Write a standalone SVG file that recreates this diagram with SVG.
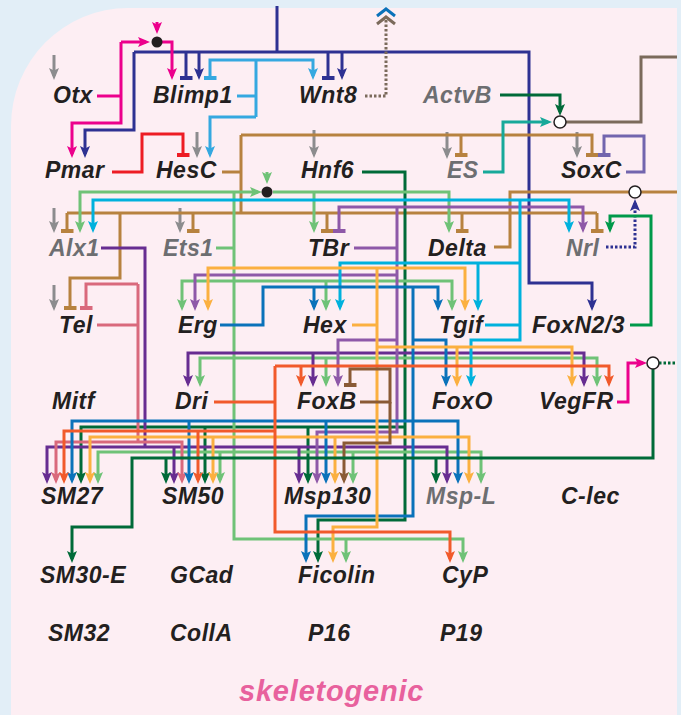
<svg xmlns="http://www.w3.org/2000/svg" width="681" height="715" viewBox="0 0 681 715">
<defs>
<style>
.n{font-family:"Liberation Sans",Arial,sans-serif;font-weight:bold;font-style:italic;font-size:23px;letter-spacing:0.5px;fill:#231f20}
.g{fill:#6d6e71}
.t{font-family:"Liberation Sans",Arial,sans-serif;font-weight:bold;font-style:italic;font-size:29px;letter-spacing:0.8px;fill:#e8619d}
.l{fill:none;stroke-width:3}
.navy{stroke:#2e3192}.mag{stroke:#ec008c}.lblue{stroke:#35a8e0}.cyan{stroke:#00b1dd}.blue{stroke:#0a72ba}
.gray{stroke:#8c8c8e}.lgreen{stroke:#6fc277}.dgreen{stroke:#006a38}.green{stroke:#00994a}.purple{stroke:#672d91}
.lpurple{stroke:#8e58a8}.orange{stroke:#fbb040}.rorange{stroke:#f15a2b}.red{stroke:#ed1c24}.pink{stroke:#d9697c}
.teal{stroke:#17a99a}.brown{stroke:#b7823f}.dbrown{stroke:#8a5a35}.slate{stroke:#7265ae}.gbrown{stroke:#7b6a5b}
.dot{stroke-dasharray:2.5 2}
.oc{fill:#fff;stroke:#231f20;stroke-width:1.5}
</style>
<marker id="a-navy" viewBox="0 0 12 10" refX="8" refY="5" markerWidth="12" markerHeight="10" markerUnits="userSpaceOnUse" orient="auto"><path d="M0,0L12,5L0,10L2.5,5z" fill="#2e3192"/></marker>
<marker id="a-mag" viewBox="0 0 12 10" refX="8" refY="5" markerWidth="12" markerHeight="10" markerUnits="userSpaceOnUse" orient="auto"><path d="M0,0L12,5L0,10L2.5,5z" fill="#ec008c"/></marker>
<marker id="a-lblue" viewBox="0 0 12 10" refX="8" refY="5" markerWidth="12" markerHeight="10" markerUnits="userSpaceOnUse" orient="auto"><path d="M0,0L12,5L0,10L2.5,5z" fill="#35a8e0"/></marker>
<marker id="a-cyan" viewBox="0 0 12 10" refX="8" refY="5" markerWidth="12" markerHeight="10" markerUnits="userSpaceOnUse" orient="auto"><path d="M0,0L12,5L0,10L2.5,5z" fill="#00b1dd"/></marker>
<marker id="a-blue" viewBox="0 0 12 10" refX="8" refY="5" markerWidth="12" markerHeight="10" markerUnits="userSpaceOnUse" orient="auto"><path d="M0,0L12,5L0,10L2.5,5z" fill="#0a72ba"/></marker>
<marker id="a-gray" viewBox="0 0 12 10" refX="8" refY="5" markerWidth="12" markerHeight="10" markerUnits="userSpaceOnUse" orient="auto"><path d="M0,0L12,5L0,10L2.5,5z" fill="#8c8c8e"/></marker>
<marker id="a-lgreen" viewBox="0 0 12 10" refX="8" refY="5" markerWidth="12" markerHeight="10" markerUnits="userSpaceOnUse" orient="auto"><path d="M0,0L12,5L0,10L2.5,5z" fill="#6fc277"/></marker>
<marker id="a-dgreen" viewBox="0 0 12 10" refX="8" refY="5" markerWidth="12" markerHeight="10" markerUnits="userSpaceOnUse" orient="auto"><path d="M0,0L12,5L0,10L2.5,5z" fill="#006a38"/></marker>
<marker id="a-green" viewBox="0 0 12 10" refX="8" refY="5" markerWidth="12" markerHeight="10" markerUnits="userSpaceOnUse" orient="auto"><path d="M0,0L12,5L0,10L2.5,5z" fill="#00994a"/></marker>
<marker id="a-purple" viewBox="0 0 12 10" refX="8" refY="5" markerWidth="12" markerHeight="10" markerUnits="userSpaceOnUse" orient="auto"><path d="M0,0L12,5L0,10L2.5,5z" fill="#672d91"/></marker>
<marker id="a-lpurple" viewBox="0 0 12 10" refX="8" refY="5" markerWidth="12" markerHeight="10" markerUnits="userSpaceOnUse" orient="auto"><path d="M0,0L12,5L0,10L2.5,5z" fill="#8e58a8"/></marker>
<marker id="a-orange" viewBox="0 0 12 10" refX="8" refY="5" markerWidth="12" markerHeight="10" markerUnits="userSpaceOnUse" orient="auto"><path d="M0,0L12,5L0,10L2.5,5z" fill="#fbb040"/></marker>
<marker id="a-rorange" viewBox="0 0 12 10" refX="8" refY="5" markerWidth="12" markerHeight="10" markerUnits="userSpaceOnUse" orient="auto"><path d="M0,0L12,5L0,10L2.5,5z" fill="#f15a2b"/></marker>
<marker id="a-pink" viewBox="0 0 12 10" refX="8" refY="5" markerWidth="12" markerHeight="10" markerUnits="userSpaceOnUse" orient="auto"><path d="M0,0L12,5L0,10L2.5,5z" fill="#d9697c"/></marker>
<marker id="a-teal" viewBox="0 0 12 10" refX="8" refY="5" markerWidth="12" markerHeight="10" markerUnits="userSpaceOnUse" orient="auto"><path d="M0,0L12,5L0,10L2.5,5z" fill="#17a99a"/></marker>
<marker id="a-dbrown" viewBox="0 0 12 10" refX="8" refY="5" markerWidth="12" markerHeight="10" markerUnits="userSpaceOnUse" orient="auto"><path d="M0,0L12,5L0,10L2.5,5z" fill="#8a5a35"/></marker>
<marker id="b-navy" viewBox="0 0 4.5 13" refX="2.25" refY="6.5" markerWidth="4.5" markerHeight="13" markerUnits="userSpaceOnUse" orient="auto"><rect width="4.5" height="13" fill="#2e3192"/></marker>
<marker id="b-lblue" viewBox="0 0 4.5 13" refX="2.25" refY="6.5" markerWidth="4.5" markerHeight="13" markerUnits="userSpaceOnUse" orient="auto"><rect width="4.5" height="13" fill="#35a8e0"/></marker>
<marker id="b-red" viewBox="0 0 4.5 13" refX="2.25" refY="6.5" markerWidth="4.5" markerHeight="13" markerUnits="userSpaceOnUse" orient="auto"><rect width="4.5" height="13" fill="#ed1c24"/></marker>
<marker id="b-brown" viewBox="0 0 4.5 13" refX="2.25" refY="6.5" markerWidth="4.5" markerHeight="13" markerUnits="userSpaceOnUse" orient="auto"><rect width="4.5" height="13" fill="#b7823f"/></marker>
<marker id="b-slate" viewBox="0 0 4.5 13" refX="2.25" refY="6.5" markerWidth="4.5" markerHeight="13" markerUnits="userSpaceOnUse" orient="auto"><rect width="4.5" height="13" fill="#7265ae"/></marker>
<marker id="b-lpurple" viewBox="0 0 4.5 13" refX="2.25" refY="6.5" markerWidth="4.5" markerHeight="13" markerUnits="userSpaceOnUse" orient="auto"><rect width="4.5" height="13" fill="#8e58a8"/></marker>
<marker id="b-pink" viewBox="0 0 4.5 13" refX="2.25" refY="6.5" markerWidth="4.5" markerHeight="13" markerUnits="userSpaceOnUse" orient="auto"><rect width="4.5" height="13" fill="#d9697c"/></marker>
<marker id="b-dbrown" viewBox="0 0 4.5 13" refX="2.25" refY="6.5" markerWidth="4.5" markerHeight="13" markerUnits="userSpaceOnUse" orient="auto"><rect width="4.5" height="13" fill="#8a5a35"/></marker>
</defs>

<rect width="681" height="715" fill="#e2eef7"/>
<path d="M11,715V126A117,118 0 0 1 128,8H677V715Z" fill="#fdeef3"/>

<g id="connectors">
<path class="l navy" d="M277,6V52"/>
<path class="l navy" d="M134,52V130H85V154" marker-end="url(#a-navy)"/>
<path class="l navy" d="M134,52H529V283H592V307" marker-end="url(#a-navy)"/>
<path class="l navy" d="M186,52V78" marker-end="url(#b-navy)"/>
<path class="l navy" d="M199,52V76" marker-end="url(#a-navy)"/>
<path class="l navy" d="M328,52V78" marker-end="url(#b-navy)"/>
<path class="l navy" d="M342,52V76" marker-end="url(#a-navy)"/>
<path class="l mag" d="M97,96H121"/>
<path class="l mag" d="M121,42V123H72V154" marker-end="url(#a-mag)"/>
<path class="l mag" d="M121,42H146" marker-end="url(#a-mag)"/>
<path class="l mag" d="M157,42H172V76" marker-end="url(#a-mag)"/>
<path class="l mag" d="M157,22V30" marker-end="url(#a-mag)"/>
<circle cx="157" cy="42" r="5.5" fill="#231f20"/>
<path class="l lblue" d="M237,96H256"/>
<path class="l lblue" d="M256,60V117"/>
<path class="l lblue" d="M256,60H210V78" marker-end="url(#b-lblue)"/>
<path class="l lblue" d="M256,60H313V76" marker-end="url(#a-lblue)"/>
<path class="l lblue" d="M256,117H210V154" marker-end="url(#a-lblue)"/>
<path class="l gbrown dot" d="M365,96H386V20"/>
<polyline points="377,16 386,9 395,16" fill="none" stroke="#0a72ba" stroke-width="3"/>
<polyline points="377,24 386,17 395,24" fill="none" stroke="#7b6a5b" stroke-width="3"/>
<path class="l red" d="M112,172H142V134H183V155" marker-end="url(#b-red)"/>
<path class="l gray" d="M54,55V76" marker-end="url(#a-gray)"/>
<path class="l gray" d="M197,132V154" marker-end="url(#a-gray)"/>
<path class="l gray" d="M314,130V154" marker-end="url(#a-gray)"/>
<path class="l gray" d="M447,132V155" marker-end="url(#a-gray)"/>
<path class="l gray" d="M577,132V154" marker-end="url(#a-gray)"/>
<path class="l gray" d="M54,208V229" marker-end="url(#a-gray)"/>
<path class="l gray" d="M180,208V229" marker-end="url(#a-gray)"/>
<path class="l gray" d="M54,285V307" marker-end="url(#a-gray)"/>
<path class="l brown" d="M222,172H241"/>
<path class="l brown" d="M241,135V213"/>
<path class="l brown" d="M241,135H592V155" marker-end="url(#b-brown)"/>
<path class="l brown" d="M461,135V155" marker-end="url(#b-brown)"/>
<path class="l brown" d="M67,213H597"/>
<path class="l brown" d="M67,213V231" marker-end="url(#b-brown)"/>
<path class="l brown" d="M193,213V231" marker-end="url(#b-brown)"/>
<path class="l brown" d="M327,213V231" marker-end="url(#b-brown)"/>
<path class="l brown" d="M462,213V231" marker-end="url(#b-brown)"/>
<path class="l brown" d="M597,213V231" marker-end="url(#b-brown)"/>
<path class="l brown" d="M120,213V278H70V308" marker-end="url(#b-brown)"/>
<path class="l slate" d="M626,172H644V136H604V155" marker-end="url(#b-slate)"/>
<path class="l teal" d="M483,172H503V122H548" marker-end="url(#a-teal)"/>
<path class="l dgreen" d="M500,95H560V112" marker-end="url(#a-dgreen)"/>
<path class="l gbrown" d="M566,122H641V57H677"/>
<circle class="oc" cx="560" cy="122" r="6"/>
<path class="l brown" d="M494,247H510V192H677"/>
<path class="l navy dot" d="M606,247H635V203" marker-end="url(#a-navy)"/>
<circle class="oc" cx="635" cy="192" r="6"/>
<path class="l green" d="M630,325H651V216H610V229" marker-end="url(#a-green)"/>
<path class="l dgreen" d="M362,172H405V520H318V559" marker-end="url(#a-dgreen)"/>
<path class="l dgreen" d="M405,427H81V480" marker-end="url(#a-dgreen)"/>
<path class="l dgreen" d="M205,427V480" marker-end="url(#a-dgreen)"/>
<path class="l dgreen" d="M308,427V480" marker-end="url(#a-dgreen)"/>
<path class="l lgreen" d="M216,248H234"/>
<path class="l lgreen" d="M234,192V539H463V559" marker-end="url(#a-lgreen)"/>
<path class="l lgreen" d="M346,539V559" marker-end="url(#a-lgreen)"/>
<path class="l lgreen" d="M234,192H80V229" marker-end="url(#a-lgreen)"/>
<path class="l lgreen" d="M234,192H258" marker-end="url(#a-lgreen)"/>
<path class="l lgreen" d="M273,192H449V229" marker-end="url(#a-lgreen)"/>
<path class="l lgreen" d="M314,192V229" marker-end="url(#a-lgreen)"/>
<path class="l lgreen" d="M267,172V180" marker-end="url(#a-lgreen)"/>
<circle cx="267" cy="192" r="5.5" fill="#231f20"/>
<path class="l lgreen" d="M234,281H182V307" marker-end="url(#a-lgreen)"/>
<path class="l lgreen" d="M234,281H452V307" marker-end="url(#a-lgreen)"/>
<path class="l lgreen" d="M326,281V307" marker-end="url(#a-lgreen)"/>
<path class="l lgreen" d="M234,358H200V383" marker-end="url(#a-lgreen)"/>
<path class="l lgreen" d="M234,358H597V383" marker-end="url(#a-lgreen)"/>
<path class="l lgreen" d="M326,358V383" marker-end="url(#a-lgreen)"/>
<path class="l lgreen" d="M234,452H98V480" marker-end="url(#a-lgreen)"/>
<path class="l lgreen" d="M234,452H481V480" marker-end="url(#a-lgreen)"/>
<path class="l lgreen" d="M220,452V480" marker-end="url(#a-lgreen)"/>
<path class="l lgreen" d="M353,452V480" marker-end="url(#a-lgreen)"/>
<path class="l purple" d="M101,248H145V447"/>
<path class="l purple" d="M145,447H47V480" marker-end="url(#a-purple)"/>
<path class="l purple" d="M145,447H447V480" marker-end="url(#a-purple)"/>
<path class="l purple" d="M174,447V480" marker-end="url(#a-purple)"/>
<path class="l purple" d="M299,447V480" marker-end="url(#a-purple)"/>
<path class="l purple" d="M313,353H188V383" marker-end="url(#a-purple)"/>
<path class="l purple" d="M313,353H584V383" marker-end="url(#a-purple)"/>
<path class="l purple" d="M313,353V383" marker-end="url(#a-purple)"/>
<path class="l lpurple" d="M354,248H397"/>
<path class="l lpurple" d="M397,207V432H317V480" marker-end="url(#a-lpurple)"/>
<path class="l lpurple" d="M397,207H339V231" marker-end="url(#b-lpurple)"/>
<path class="l lpurple" d="M397,207H583V229" marker-end="url(#a-lpurple)"/>
<path class="l lpurple" d="M397,275H195V307" marker-end="url(#a-lpurple)"/>
<path class="l lpurple" d="M397,340H338V383" marker-end="url(#a-lpurple)"/>
<path class="l pink" d="M97,325H138"/>
<path class="l pink" d="M138,284V442"/>
<path class="l pink" d="M138,284H86V308" marker-end="url(#b-pink)"/>
<path class="l pink" d="M138,442H56V480" marker-end="url(#a-pink)"/>
<path class="l pink" d="M138,442H182V480" marker-end="url(#a-pink)"/>
<path class="l cyan" d="M485,325H520"/>
<path class="l cyan" d="M520,200V340H471V383" marker-end="url(#a-cyan)"/>
<path class="l cyan" d="M520,200H93V229" marker-end="url(#a-cyan)"/>
<path class="l cyan" d="M520,200H569V229" marker-end="url(#a-cyan)"/>
<path class="l cyan" d="M520,263H340V307" marker-end="url(#a-cyan)"/>
<path class="l cyan" d="M478,263V307" marker-end="url(#a-cyan)"/>
<path class="l blue" d="M220,325H263V287H438V307" marker-end="url(#a-blue)"/>
<path class="l blue" d="M314,287V307" marker-end="url(#a-blue)"/>
<path class="l blue" d="M413,287V516H306V559" marker-end="url(#a-blue)"/>
<path class="l blue" d="M413,340H446V383" marker-end="url(#a-blue)"/>
<path class="l blue" d="M413,421H72V480" marker-end="url(#a-blue)"/>
<path class="l blue" d="M413,421H458V480" marker-end="url(#a-blue)"/>
<path class="l blue" d="M189,421V480" marker-end="url(#a-blue)"/>
<path class="l blue" d="M326,421V480" marker-end="url(#a-blue)"/>
<path class="l orange" d="M352,325H377"/>
<path class="l orange" d="M377,268V527H333V559" marker-end="url(#a-orange)"/>
<path class="l orange" d="M377,268H208V307" marker-end="url(#a-orange)"/>
<path class="l orange" d="M377,268H465V307" marker-end="url(#a-orange)"/>
<path class="l orange" d="M377,347H572V383" marker-end="url(#a-orange)"/>
<path class="l orange" d="M457,347V383" marker-end="url(#a-orange)"/>
<path class="l orange" d="M377,437H90V480" marker-end="url(#a-orange)"/>
<path class="l orange" d="M377,437H469V480" marker-end="url(#a-orange)"/>
<path class="l orange" d="M213,437V480" marker-end="url(#a-orange)"/>
<path class="l orange" d="M335,437V480" marker-end="url(#a-orange)"/>
<path class="l rorange" d="M214,402H275"/>
<path class="l rorange" d="M275,366V532H450V559" marker-end="url(#a-rorange)"/>
<path class="l rorange" d="M275,366H609V383" marker-end="url(#a-rorange)"/>
<path class="l rorange" d="M301,366V383" marker-end="url(#a-rorange)"/>
<path class="l rorange" d="M275,431H64V480" marker-end="url(#a-rorange)"/>
<path class="l rorange" d="M198,431V480" marker-end="url(#a-rorange)"/>
<path class="l dbrown" d="M360,402H390V369H350V385" marker-end="url(#b-dbrown)"/>
<path class="l dbrown" d="M390,402V443H344V480" marker-end="url(#a-dbrown)"/>
<path class="l mag" d="M617,402H628V363H643" marker-end="url(#a-mag)"/>
<path class="l dgreen dot" d="M659,363H677"/>
<path class="l dgreen" d="M653,369V458H132V527H72V559" marker-end="url(#a-dgreen)"/>
<path class="l dgreen" d="M436,458V480" marker-end="url(#a-dgreen)"/>
<path class="l dgreen" d="M166,458V480" marker-end="url(#a-dgreen)"/>
<circle class="oc" cx="653" cy="363" r="6"/>
</g>

<g id="Otx"><text class="n" x="53" y="103">Otx</text></g>
<g id="Blimp1"><text class="n" x="153" y="103">Blimp1</text></g>
<g id="Wnt8"><text class="n" x="299" y="103">Wnt8</text></g>
<g id="ActvB"><text class="n g" x="423" y="103">ActvB</text></g>
<g id="Pmar"><text class="n" x="45" y="178">Pmar</text></g>
<g id="HesC"><text class="n" x="156" y="178">HesC</text></g>
<g id="Hnf6"><text class="n" x="301" y="178">Hnf6</text></g>
<g id="ES"><text class="n g" x="447" y="178">ES</text></g>
<g id="SoxC"><text class="n" x="561" y="178">SoxC</text></g>
<g id="Alx1"><text class="n g" x="49" y="256">Alx1</text></g>
<g id="Ets1"><text class="n g" x="163" y="256">Ets1</text></g>
<g id="TBr"><text class="n" x="308" y="256">TBr</text></g>
<g id="Delta"><text class="n" x="428" y="256">Delta</text></g>
<g id="Nrl"><text class="n g" x="566" y="256">Nrl</text></g>
<g id="Tel"><text class="n" x="59" y="333">Tel</text></g>
<g id="Erg"><text class="n" x="178" y="333">Erg</text></g>
<g id="Hex"><text class="n" x="303" y="333">Hex</text></g>
<g id="Tgif"><text class="n" x="439" y="333">Tgif</text></g>
<g id="FoxN23"><text class="n" x="532" y="333">FoxN2/3</text></g>
<g id="Mitf"><text class="n" x="52" y="409">Mitf</text></g>
<g id="Dri"><text class="n" x="175" y="409">Dri</text></g>
<g id="FoxB"><text class="n" x="297" y="409">FoxB</text></g>
<g id="FoxO"><text class="n" x="432" y="409">FoxO</text></g>
<g id="VegFR"><text class="n" x="539" y="409">VegFR</text></g>
<g id="SM27"><text class="n" x="41" y="504">SM27</text></g>
<g id="SM50"><text class="n" x="162" y="504">SM50</text></g>
<g id="Msp130"><text class="n" x="284" y="504">Msp130</text></g>
<g id="MspL"><text class="n g" x="426" y="504">Msp-L</text></g>
<g id="Clec"><text class="n" x="561" y="504">C-lec</text></g>
<g id="SM30E"><text class="n" x="40" y="583">SM30-E</text></g>
<g id="GCad"><text class="n" x="170" y="583">GCad</text></g>
<g id="Ficolin"><text class="n" x="298" y="583">Ficolin</text></g>
<g id="CyP"><text class="n" x="442" y="583">CyP</text></g>
<g id="SM32"><text class="n" x="48" y="641">SM32</text></g>
<g id="CollA"><text class="n" x="170" y="641">CollA</text></g>
<g id="P16"><text class="n" x="308" y="641">P16</text></g>
<g id="P19"><text class="n" x="440" y="641">P19</text></g>
<text class="t" x="239" y="701">skeletogenic</text>
</svg>
